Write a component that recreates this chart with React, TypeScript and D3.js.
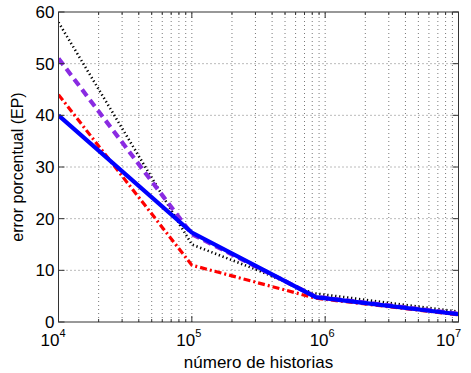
import React from "react";
import * as d3 from "d3";

const W = 471, H = 373;
const M = { left: 58.5, right: 12.5, top: 12, bottom: 51 };

const xDomain = [1e4, 1e7];
const yDomain = [0, 60];
const yTicks = [0, 10, 20, 30, 40, 50, 60];
const xMajor = [1e4, 1e5, 1e6, 1e7];
const xExponents = ["4", "5", "6", "7"];

const blackX = [1e4, 1e5, 3e5, 8e5, 1e7];
const blackY = [58, 15, 10.2, 5.6, 2.0];
const redX = [1e4, 1e5, 8.5e5, 1e7];
const redY = [44, 11, 4.6, 1.4];
const purpleX = [1e4, 1e5, 8.5e5, 1e7];
const purpleY = [51, 17.0, 4.9, 1.6];
const blueX = [1e4, 1e5, 8.5e5, 1e7];
const blueY = [40, 17.3, 4.8, 1.5];

const FONT = "'Liberation Sans', Arial, Helvetica, sans-serif";

export default function App() {
  const x = d3.scaleLog().domain(xDomain).range([M.left, W - M.right]);
  const y = d3.scaleLinear().domain(yDomain).range([H - M.bottom, M.top]);
  const x0 = M.left, x1 = W - M.right, y0 = H - M.bottom, y1 = M.top;

  const minor: number[] = [];
  for (let d = 1e4; d < 1e7; d *= 10) {
    for (let k = 1; k <= 9; k++) minor.push(d * k);
  }
  minor.push(1e7);
  const gridX = minor.filter((v) => v > 1e4 && v < 1e7);

  const line = d3
    .line<[number, number]>()
    .x((d) => x(d[0]))
    .y((d) => y(d[1]));
  const zip = (xs: number[], ys: number[]) => xs.map((v, i) => [v, ys[i]] as [number, number]);

  return (
    <svg width={W} height={H} style={{ display: "block", position: "absolute", left: 0, top: 0 }}>
      <rect x={0} y={0} width={W} height={H} fill="#fff" />
      <g stroke="#000" strokeWidth={0.7} strokeDasharray="1,3" opacity={0.75}>
        {gridX.map((v, i) => (
          <line key={"gx" + i} x1={x(v)} x2={x(v)} y1={y0} y2={y1} />
        ))}
        {yTicks
          .filter((t) => t > 0 && t < 60)
          .map((t) => (
            <line key={"gy" + t} x1={x0} x2={x1} y1={y(t)} y2={y(t)} />
          ))}
      </g>
      <defs>
        <clipPath id="plotclip">
          <rect x={x0} y={y1} width={x1 - x0} height={y0 - y1} />
        </clipPath>
      </defs>
      <g clipPath="url(#plotclip)" fill="none">
        <path d={line(zip(blackX, blackY)) || ""} stroke="#000" strokeWidth={2.6} strokeDasharray="1.3,2.7" />
        <path d={line(zip(redX, redY)) || ""} stroke="#ff0000" strokeWidth={3.2} strokeDasharray="7,3,2,3" />
        <path d={line(zip(purpleX, purpleY)) || ""} stroke="#8a2be2" strokeWidth={4.2} strokeDasharray="8,5" />
        <path d={line(zip(blueX, blueY)) || ""} stroke="#0000ff" strokeWidth={4.2} />
      </g>
      <rect x={x0} y={y1} width={x1 - x0} height={y0 - y1} fill="none" stroke="#333" strokeWidth={1} />
      <g stroke="#333" strokeWidth={1}>
        {minor.map((v, i) => {
          const isMajor = xMajor.includes(v);
          const len = isMajor ? 6 : 3;
          return (
            <g key={"tx" + i}>
              <line x1={x(v)} x2={x(v)} y1={y0} y2={y0 - len} />
              <line x1={x(v)} x2={x(v)} y1={y1} y2={y1 + len} />
            </g>
          );
        })}
        {yTicks.map((t) => (
          <g key={"ty" + t}>
            <line x1={x0} x2={x0 + 6} y1={y(t)} y2={y(t)} />
            <line x1={x1} x2={x1 - 6} y1={y(t)} y2={y(t)} />
          </g>
        ))}
      </g>
      <g fontFamily={FONT} fontSize={17} fill="#000">
        {yTicks.map((t) => (
          <text key={"yl" + t} x={x0 - 4} y={y(t)} dy="0.36em" textAnchor="end">
            {t}
          </text>
        ))}
        {xMajor.map((v, i) => {
          const last = i === xMajor.length - 1;
          const first = i === 0;
          const px = last ? x(v) - 10 : first ? x(v) - 5.5 : x(v) - 3;
          return (
            <text key={"xl" + i} x={px} y={y0 + 24} textAnchor="middle">
              10
              <tspan fontSize={11} dy={-9}>
                {xExponents[i]}
              </tspan>
            </text>
          );
        })}
      </g>
      <text x={(x0 + x1) / 2} y={368} textAnchor="middle" fontFamily={FONT} fontSize={17}>
        número de historias
      </text>
      <text
        transform={`translate(23, ${(y0 + y1) / 2}) rotate(-90)`}
        textAnchor="middle"
        fontFamily={FONT}
        fontSize={16}
      >
        error porcentual (EP)
      </text>
    </svg>
  );
}
